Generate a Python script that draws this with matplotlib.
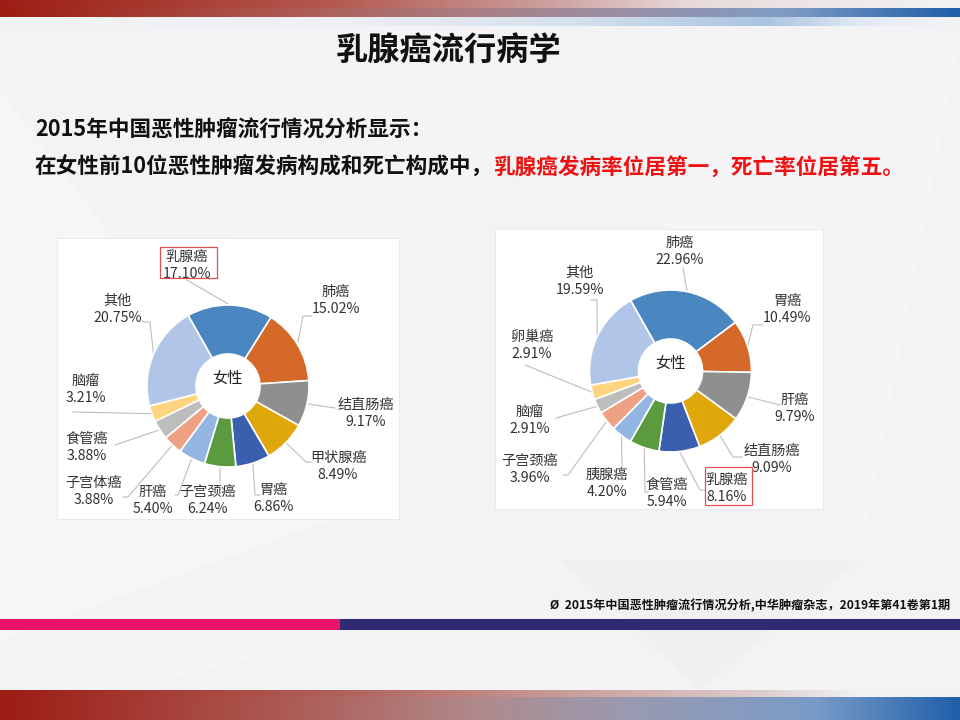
import numpy as np
import matplotlib
matplotlib.use("Agg")
import matplotlib.pyplot as plt
from matplotlib.colors import LinearSegmentedColormap
from matplotlib.patches import Rectangle, Polygon

plt.rcParams["font.family"] = ["Noto Sans CJK SC", "DejaVu Sans"]

W, H = 960, 720

# female incidence composition (left chart), clockwise from the top
inc_names = ["乳腺癌", "肺癌", "结直肠癌", "甲状腺癌", "胃癌", "子宫颈癌",
             "肝癌", "子宫体癌", "食管癌", "脑瘤", "其他"]
inc_values = [17.10, 15.02, 9.17, 8.49, 6.86, 6.24, 5.40, 3.88, 3.88, 3.21, 20.75]

# female mortality composition (right chart)
mor_names = ["肺癌", "胃癌", "肝癌", "结直肠癌", "乳腺癌", "食管癌",
             "胰腺癌", "子宫颈癌", "脑瘤", "卵巢癌", "其他"]
mor_values = [22.96, 10.49, 9.79, 9.09, 8.16, 5.94, 4.20, 3.96, 2.91, 2.91, 19.59]

slice_colors = ["#4a87c1", "#d5692a", "#8f8f8f", "#e0a70a", "#3a5fae", "#5b9a3f",
                "#93b5e1", "#efa184", "#bdbdbd", "#fed47f", "#b0c5e7"]

# label layout in slide pixels: name centre, then leader points from label to slice
inc_label_xy = [(187, 257), (336, 292), (366, 405), (338, 458), (273, 490), (208, 492),
                (153, 492), (94, 483), (87, 439), (86, 381), (118, 301)]
inc_leaders = [[(187, 280)], [(312, 316), (303, 316)], [(335, 408)],
               [(311, 462), (306, 462)], [(260, 495), (255, 495)], [(220, 483)],
               [(175, 495), (178, 495)], [(123, 497), (128, 497)], [(115, 445)],
               [(73, 412)], [(143, 322), (150, 322)]]
mor_label_xy = [(680, 243), (787, 301), (795, 400), (772, 451), (727, 480), (667, 485),
                (607, 475), (530, 461), (530, 412), (532, 337), (580, 273)]
mor_leaders = [[(683, 268)], [(763, 325), (753, 325)], [(780, 405)],
               [(742, 457), (733, 457)], [(705, 490), (700, 490)],
               [(648, 492), (645, 492)], [(622, 466)], [(563, 475), (568, 475)],
               [(556, 418)], [(525, 365)], [(591, 300), (597, 300)]]

START = 119.5
R_OUT, R_IN = 81, 32

fig = plt.figure(figsize=(W / 100, H / 100), dpi=100)
bg = fig.add_axes([0, 0, 1, 1])
bg.set_xlim(0, W)
bg.set_ylim(H, 0)
bg.axis("off")
bg.add_patch(Rectangle((0, 0), W, H, color="#f3f3f5", zorder=0))

# faint facets of the slide background
for pts, col in [
    ([(0, 90), (330, 520), (0, 640)], "#f8f8fa"),
    ([(150, 30), (560, 30), (330, 520)], "#f5f5f7"),
    ([(560, 40), (960, 40), (860, 560)], "#f6f6f8"),
    ([(560, 560), (860, 560), (700, 690)], "#efeff2"),
    ([(0, 640), (330, 640), (120, 690)], "#f7f7f9"),
]:
    bg.add_patch(Polygon(pts, closed=True, color=col, alpha=0.7, lw=0, zorder=0.5))


def band(x0, x1, y0, y1, stops):
    cmap = LinearSegmentedColormap.from_list("b", stops)
    grad = np.linspace(0, 1, 512)[None, :]
    bg.imshow(grad, cmap=cmap, extent=(x0, x1, y1, y0), aspect="auto", zorder=1,
              interpolation="bilinear")


band(0, W, 0, 8, [(0, "#9d1e14"), (0.35, "#b45a50"), (0.55, "#c89896"),
                  (0.72, "#e8dada"), (1, "#f3f3f6")])
band(0, W, 8, 17, [(0, "#9d1d12"), (0.3, "#ad5a52"), (0.5, "#a98086"),
                   (0.65, "#9a90a6"), (0.82, "#7f9cc4"), (1, "#1f5ea8")])
band(0, W, 17, 26, [(0, "#f3f3f5"), (0.35, "#eef0f4"), (0.6, "#d5e0ec"),
                    (0.8, "#a9c4e1"), (0.9, "#e3eaf4"), (1, "#f3f3f5")])
band(0, W, 690, 698, [(0, "#9c1d14"), (0.35, "#b0605a"), (0.6, "#c9a09c"),
                      (0.8, "#ddd0d0"), (0.9, "#f3f3f5"), (1, "#f3f3f5")])
band(0, W, 697, 720, [(0, "#9c1d14"), (0.3, "#ad5b55"), (0.5, "#b08a8c"),
                      (0.65, "#9a9ab0"), (0.85, "#7a9cc8"), (1, "#2060aa")])

bg.add_patch(Rectangle((0, 619), 340, 11, color="#e8146a", lw=0, zorder=2))
bg.add_patch(Rectangle((340, 619), 620, 11, color="#2e2b72", lw=0, zorder=2))

# titles
bg.text(449, 50, "乳腺癌流行病学", fontsize=23.2, fontweight="bold", color="#111111",
        ha="center", va="center", zorder=3)
bg.text(35, 130, "2015年中国恶性肿瘤流行情况分析显示：", fontsize=15.6, fontweight="bold",
        color="#111111", ha="left", va="center", zorder=3)
t_black = bg.text(35, 167, "在女性前10位恶性肿瘤发病构成和死亡构成中，", fontsize=15.6,
                  fontweight="bold", color="#111111", ha="left", va="center", zorder=3)
bg.annotate("乳腺癌发病率位居第一，死亡率位居第五。", xy=(1, 0), xycoords=t_black,
            fontsize=15.6, fontweight="bold", color="#ee1111", ha="left", va="bottom",
            zorder=3)
bg.text(950, 606, "Ø  2015年中国恶性肿瘤流行情况分析,中华肿瘤杂志，2019年第41卷第1期",
        fontsize=8.7, fontweight="bold", color="#111111", ha="right", va="center", zorder=3)


def donut(box, cx, cy, names, values, label_xy, leaders, red_box):
    bx0, by0, bx1, by1 = box
    bg.add_patch(Rectangle((bx0, by0), bx1 - bx0, by1 - by0, facecolor="white",
                           edgecolor="#e6e6e6", lw=0.6, zorder=2))
    pad = 3
    ax = fig.add_axes([(cx - R_OUT - pad) / W, 1 - (cy + R_OUT + pad) / H,
                       2 * (R_OUT + pad) / W, 2 * (R_OUT + pad) / H])
    ax.pie(values, colors=slice_colors, startangle=START, counterclock=False,
           wedgeprops=dict(width=(R_OUT - R_IN) / R_OUT, edgecolor="white", linewidth=1.2))
    lim = (R_OUT + pad) / R_OUT
    ax.set_xlim(-lim, lim)
    ax.set_ylim(-lim, lim)
    ax.set_aspect("auto")
    ax.axis("off")
    ax.text(0, 0.09, "女性", fontsize=11, color="#222222", ha="center", va="center")

    cum = np.cumsum([0] + list(values))
    total = cum[-1]
    for i, name in enumerate(names):
        mid = np.deg2rad(START - 360 * (cum[i] + values[i] / 2) / total)
        ex, ey = cx + R_OUT * np.cos(mid), cy - R_OUT * np.sin(mid)
        pts = leaders[i] + [(ex, ey)]
        bg.plot([p[0] for p in pts], [p[1] for p in pts], color="#bdbdbd", lw=0.8,
                zorder=3)
        lx, ly = label_xy[i]
        bg.text(lx, ly, name, fontsize=10.2, color="#333333", ha="center", va="center",
                zorder=4)
        bg.text(lx, ly + 17, f"{values[i]:.2f}%", fontsize=10.2, color="#333333",
                ha="center", va="center", zorder=4)
    x0, y0, x1, y1 = red_box
    bg.add_patch(Rectangle((x0, y0), x1 - x0, y1 - y0, fill=False, edgecolor="#e05050",
                           lw=0.9, zorder=4))


donut((57, 238, 399, 519), 228, 386, inc_names, inc_values, inc_label_xy, inc_leaders,
      (160, 247, 217, 278))
donut((495, 229, 823, 509), 670.5, 371, mor_names, mor_values, mor_label_xy, mor_leaders,
      (705, 467, 752, 505))

fig.savefig("out.png", dpi=100)
